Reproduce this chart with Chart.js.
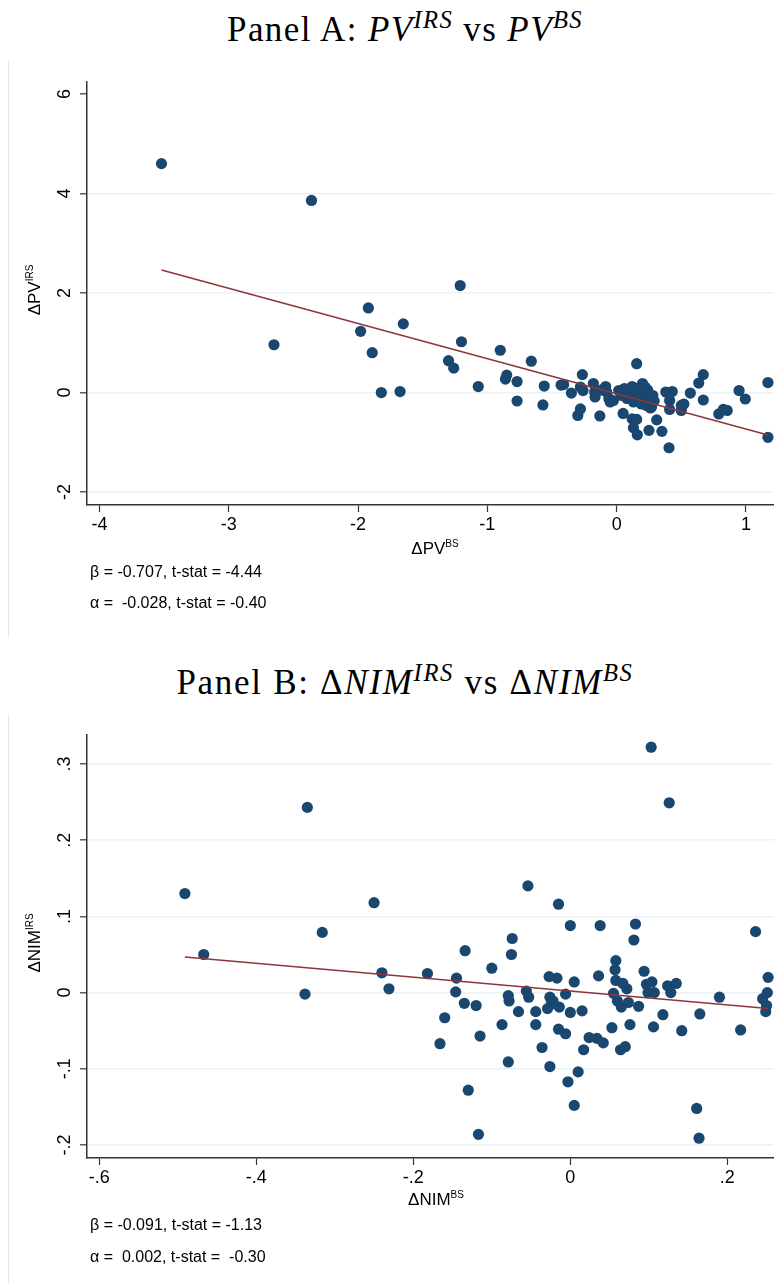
<!DOCTYPE html>
<html>
<head>
<meta charset="utf-8">
<script src="https://cdn.jsdelivr.net/npm/chart.js@4.4.1/dist/chart.umd.min.js"></script>
<style>
  body { margin: 0; background: #fff; }
  #page { position: relative; width: 774px; height: 1284px; overflow: hidden; background: #fff;
          font-family: "Liberation Sans", Arial, sans-serif; color: #000; }
  canvas { position: absolute; left: 0; }
  .ttl { position: absolute; left: 0; width: 810px; text-align: center; white-space: nowrap;
         font-family: "Liberation Serif", "Times New Roman", serif; font-size: 35px; line-height: 40px;
         letter-spacing: 1.4px; }
  .ttl sup { font-size: 0.7em; position: relative; top: -0.55em; vertical-align: baseline; line-height: 0; }
  .axt { position: absolute; white-space: nowrap; font-size: 17px; line-height: 20px; text-align: center; width: 200px; }
  .axt sup { font-size: 10px; position: relative; top: -0.7em; vertical-align: baseline; line-height: 0; }
  .ytl { transform: rotate(-90deg); transform-origin: 100px 10px; }
  .stat { position: absolute; left: 90px; font-size: 16px; line-height: 20px; white-space: pre; }
  .edge { position: absolute; left: 8px; width: 1px; background: #e8e8e8; }
</style>
</head>
<body>
<div id="page">
  <div class="edge" style="top:60px;height:578px"></div>
  <div class="edge" style="top:714px;height:570px"></div>

  <div class="ttl" style="top:10px">Panel A: <i>PV</i><sup><i>IRS</i></sup> vs <i>PV</i><sup><i>BS</i></sup></div>
  <canvas id="pv-chart" width="774" height="576" style="top:60px"></canvas>
  <div class="axt ytl" style="left:-65px;top:280px">ΔPV<sup>IRS</sup></div>
  <div class="axt" style="left:335px;top:539px">ΔPV<sup>BS</sup></div>
  <div class="stat" style="top:562px">β = -0.707, t-stat = -4.44</div>
  <div class="stat" style="top:593px">α =  -0.028, t-stat = -0.40</div>

  <div class="ttl" style="top:663px;letter-spacing:1.7px">Panel B: Δ<i>NIM</i><sup><i>IRS</i></sup> vs Δ<i>NIM</i><sup><i>BS</i></sup></div>
  <canvas id="nim-chart" width="774" height="576" style="top:713px"></canvas>
  <div class="axt ytl" style="left:-65px;top:933px">ΔNIM<sup>IRS</sup></div>
  <div class="axt" style="left:336px;top:1190px">ΔNIM<sup>BS</sup></div>
  <div class="stat" style="top:1215px">β = -0.091, t-stat = -1.13</div>
  <div class="stat" style="top:1247px">α =  0.002, t-stat =  -0.30</div>
</div>

<script>
// Panel A: change in PV, balance sheet (x) vs interest rate swaps (y)
const pvBs = [
  -3.52, -2.36, -2.65, -1.92, -1.98, -1.89, -1.65, -1.82, -1.675, -1.21,
  -1.20, -1.30, -1.26, -1.07, -0.90, -0.85, -0.86, -0.77, -0.77, -0.66,
  -0.56, -0.57, -0.43, -0.41, -0.35, -0.265, -0.28, -0.30, -0.13, 0.05,
  0.155, 0.12, 0.155, 0.13, 0.16, 0.25, 0.31, 0.35, 0.405, 0.43,
  0.38, 0.41, 0.41, 0.50, 0.52, 0.50, 0.57, 0.635, 0.67, 0.67,
  0.79, 0.825, 0.855, 0.947, 0.995, 1.17, 1.17, -0.28, -0.26, -0.18,
  -0.167, -0.17, -0.085, -0.077, -0.05, -0.06, 0.016, 0.04, 0.08, 0.12,
  0.13, 0.18, 0.20, 0.22, 0.21, 0.23, 0.26, 0.28, 0.27, 0.155,
  0.155, 0.10, -0.025, 0.24, 0.06, -0.12, 0.29, 0.19
];
const pvIrs = [
  4.60, 3.86, 0.96, 1.70, 1.23, 0.80, 1.38, 0.00, 0.02, 2.15,
  1.02, 0.64, 0.49, 0.12, 0.85, 0.35, 0.27, 0.22, -0.17, 0.63,
  0.13, -0.25, 0.15, 0.16, -0.01, 0.36, -0.33, -0.46, -0.47, -0.42,
  0.58, -0.53, -0.54, -0.71, -0.85, -0.76, -0.55, -0.78, -1.11, 0.02,
  0.01, -0.16, -0.34, -0.26, -0.23, -0.36, -0.01, 0.19, 0.36, -0.15,
  -0.43, -0.34, -0.36, 0.04, -0.13, 0.20, -0.90, 0.11, 0.04, 0.18,
  -0.09, 0.01, 0.12, 0.01, -0.19, -0.12, 0.04, -0.06, -0.12, 0.12,
  -0.19, 0.01, 0.18, 0.11, -0.12, -0.26, -0.31, -0.06, -0.29, 0.08,
  -0.09, -0.02, -0.16, 0.05, 0.08, 0.05, -0.17, -0.23
];
const pvXTicks = [-4, -3, -2, -1, 0, 1];
const pvXLabels = ['-4', '-3', '-2', '-1', '0', '1'];
const pvYTicks = [-2, 0, 2, 4, 6];
const pvYLabels = ['-2', '0', '2', '4', '6'];
const pvYGrid = [-2, 0, 2, 4];
const pvBeta = -0.707;
const pvAlpha = -0.028;

// Panel B: change in NIM, balance sheet (x) vs interest rate swaps (y)
const nimBs = [
  -0.491, -0.467, -0.335, -0.338, -0.316, -0.250, -0.240, -0.231, -0.182, -0.134,
  -0.145, -0.146, -0.135, -0.120, -0.160, -0.166, -0.115, -0.130, -0.117, -0.100,
  -0.087, -0.079, -0.079, -0.078, -0.074, -0.075, -0.066, -0.056, -0.053, -0.054,
  -0.044, -0.044, -0.036, -0.027, -0.017, -0.026, -0.026, -0.024, -0.029, -0.014,
  -0.022, -0.015, -0.015, -0.006, -0.006, -0.003, 0.000, 0.000, 0.005, 0.005,
  0.010, 0.015, 0.017, 0.024, 0.034, 0.036, 0.038, 0.042, 0.053, 0.055,
  0.057, 0.058, 0.058, 0.060, 0.064, 0.065, 0.067, 0.070, 0.072, 0.074,
  0.076, 0.081, 0.083, 0.087, 0.094, 0.097, 0.099, 0.103, 0.104, 0.106,
  0.107, 0.118, 0.124, 0.126, 0.128, 0.135, 0.142, 0.161, 0.164, 0.165,
  0.190, 0.217, 0.236, 0.245, 0.250, 0.249, 0.251, 0.252
];
const nimIrs = [
  0.130, 0.050, 0.243, -0.002, 0.079, 0.118, 0.026, 0.005, 0.025, 0.055,
  0.019, 0.001, -0.014, -0.017, -0.033, -0.067, -0.057, -0.128, -0.186, 0.032,
  -0.042, -0.091, -0.004, -0.011, 0.071, 0.050, -0.025, 0.002, -0.006, 0.140,
  -0.025, -0.042, -0.072, 0.021, 0.019, -0.097, -0.006, -0.015, -0.021, -0.019,
  -0.011, 0.116, -0.048, -0.054, -0.002, -0.117, 0.088, -0.026, 0.014, -0.148,
  -0.104, -0.024, -0.075, -0.059, -0.060, 0.022, 0.088, -0.066, -0.046, -0.001,
  0.030, 0.042, 0.016, -0.011, -0.075, -0.019, 0.012, -0.071, 0.005, -0.013,
  -0.042, 0.069, 0.090, -0.018, 0.028, 0.011, 0.000, 0.322, 0.014, -0.045,
  0.000, -0.029, 0.009, 0.249, 0.000, 0.012, -0.050, -0.152, -0.191, -0.028,
  -0.006, -0.049, 0.080, -0.008, -0.017, -0.025, 0.000, 0.020
];
const nimXTicks = [-0.6, -0.4, -0.2, 0, 0.2];
const nimXLabels = ['-.6', '-.4', '-.2', '0', '.2'];
const nimYTicks = [-0.2, -0.1, 0, 0.1, 0.2, 0.3];
const nimYLabels = ['-.2', '-.1', '0', '.1', '.2', '.3'];
const nimYGrid = nimYTicks;
const nimBeta = -0.091;
const nimAlpha = 0.002;

const DOT = '#1a476f';
const FIT = '#90353b';
const AXIS = '#333333';
const GRID = '#eaf2f3';
const SANS = '"Liberation Sans", Arial, sans-serif';

// fitted line over the range of the x values
function fitLine(xs, alpha, beta) {
  const lo = Math.min(...xs), hi = Math.max(...xs);
  return [{ x: lo, y: alpha + beta * lo }, { x: hi, y: alpha + beta * hi }];
}

// y tick labels are drawn turned on their side
function sideLabels(labels) {
  return {
    id: 'sideLabels',
    afterDraw(chart) {
      const scale = chart.scales.y;
      const ctx = chart.ctx;
      ctx.save();
      ctx.font = '18px ' + SANS;
      ctx.fillStyle = '#000';
      ctx.textAlign = 'center';
      ctx.textBaseline = 'alphabetic';
      scale.ticks.forEach((t, i) => {
        ctx.save();
        ctx.translate(70, scale.getPixelForValue(t.value));
        ctx.rotate(-Math.PI / 2);
        ctx.fillText(labels[i], 0, 0);
        ctx.restore();
      });
      ctx.restore();
    }
  };
}

// no extra room for label overhang, so the plot runs to the canvas edge
function noPad(s) {
  s.paddingLeft = 0;
  s.paddingRight = 0;
  s.paddingTop = 0;
  s.paddingBottom = 0;
}

function drawPanel(id, p) {
  const ctx = document.getElementById(id).getContext('2d');
  return new Chart(ctx, {
    type: 'scatter',
    data: {
      datasets: [
        {
          type: 'line',
          data: fitLine(p.xs, p.alpha, p.beta),
          borderColor: FIT,
          borderWidth: 1.6,
          pointRadius: 0,
          order: 0
        },
        {
          data: p.xs.map((x, i) => ({ x: x, y: p.ys[i] })),
          backgroundColor: DOT,
          borderWidth: 0,
          pointRadius: 5.6,
          order: 1
        }
      ]
    },
    options: {
      responsive: false,
      animation: false,
      events: [],
      layout: { autoPadding: false, padding: { top: 22, left: 0, right: 0, bottom: 0 } },
      plugins: { legend: { display: false }, tooltip: { enabled: false } },
      scales: {
        x: {
          type: 'linear',
          min: p.xMin,
          max: p.xMax,
          afterBuildTicks: s => { s.ticks = p.xTicks.map(v => ({ value: v })); },
          afterFit: s => { s.height = 131; noPad(s); },
          ticks: {
            color: '#000',
            font: { family: SANS, size: 18 },
            padding: 2,
            maxRotation: 0,
            callback: (v, i) => p.xLabels[i]
          },
          grid: { drawOnChartArea: false, tickLength: 7, tickColor: AXIS, tickWidth: 1.2 },
          border: { color: AXIS, width: 1.5 }
        },
        y: {
          type: 'linear',
          min: p.yMin,
          max: p.yMax,
          afterBuildTicks: s => { s.ticks = p.yTicks.map(v => ({ value: v })); },
          afterFit: s => { s.width = 87; noPad(s); },
          ticks: { display: false },
          grid: {
            color: c => (c.tick && p.yGrid.includes(c.tick.value)) ? GRID : 'rgba(0,0,0,0)',
            lineWidth: 1.6,
            tickLength: 7,
            tickColor: AXIS,
            tickWidth: 1.2
          },
          border: { color: AXIS, width: 1.5 }
        }
      }
    },
    plugins: [sideLabels(p.yLabels)]
  });
}

drawPanel('pv-chart', {
  xs: pvBs, ys: pvIrs, alpha: pvAlpha, beta: pvBeta,
  xMin: -4.096, xMax: 1.217, yMin: -2.26, yMax: 6.24,
  xTicks: pvXTicks, xLabels: pvXLabels,
  yTicks: pvYTicks, yLabels: pvYLabels, yGrid: pvYGrid
});

drawPanel('nim-chart', {
  xs: nimBs, ys: nimIrs, alpha: nimAlpha, beta: nimBeta,
  xMin: -0.6157, xMax: 0.2595, yMin: -0.217, yMax: 0.338,
  xTicks: nimXTicks, xLabels: nimXLabels,
  yTicks: nimYTicks, yLabels: nimYLabels, yGrid: nimYGrid
});
</script>
</body>
</html>
